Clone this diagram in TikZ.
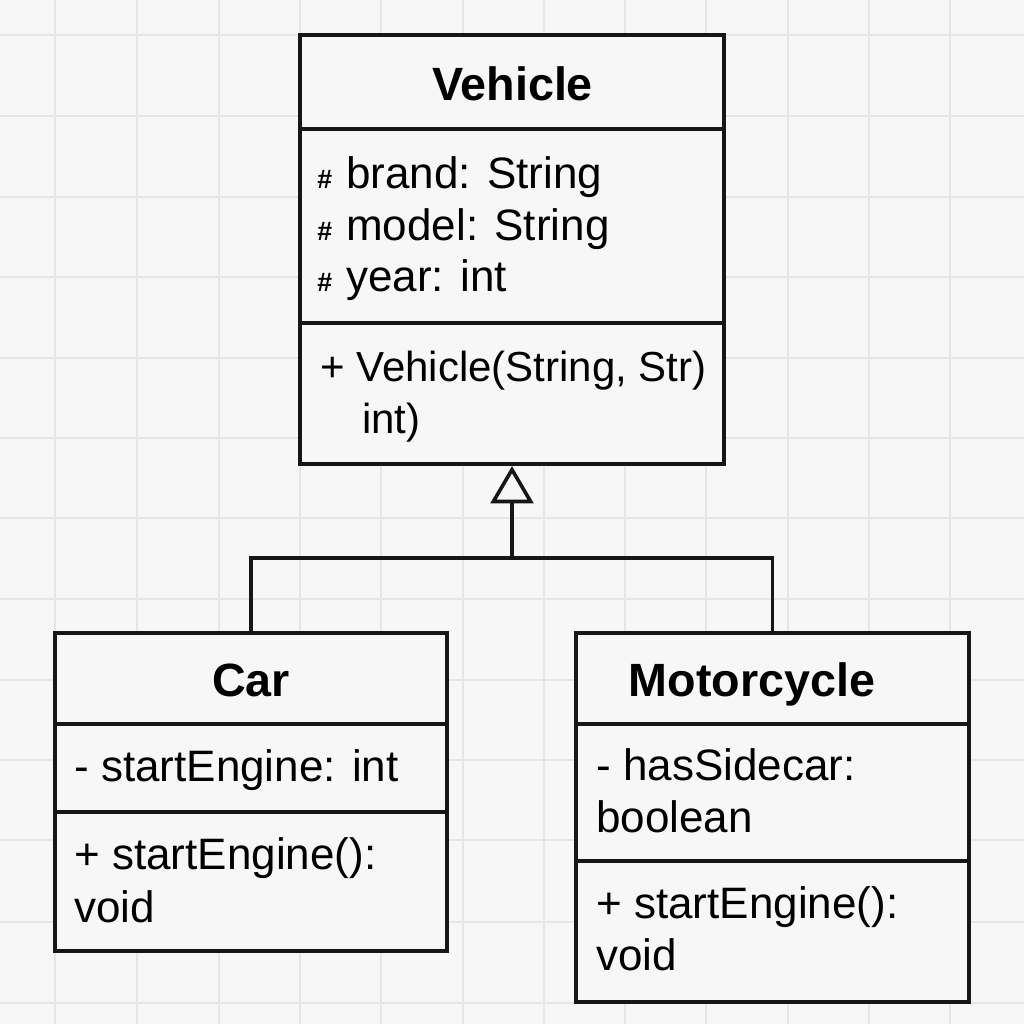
\documentclass[tikz,border=0pt]{standalone}
\usepackage{fontspec}
\setmainfont{Liberation Sans}
\usetikzlibrary{arrows.meta,fit}
\definecolor{bgc}{RGB}{247,247,247}
\definecolor{gridc}{RGB}{230,230,230}
\definecolor{ink}{RGB}{22,22,22}
\begin{document}
\begin{tikzpicture}[x=0.75pt,y=-0.75pt,
 umlbox/.style={draw=ink, line width=3pt, inner sep=0pt, fill=bgc},
 sepline/.style={draw=ink, line width=2.7pt},
 link/.style={draw=ink, line width=2.7pt},
 txt/.style={inner sep=0pt, anchor=base west, text=black, font=\fontsize{33}{40}\selectfont},
 txtm/.style={inner sep=0pt, anchor=base west, text=black, font=\fontsize{31.5}{38}\selectfont},
 ttl/.style={inner sep=0pt, anchor=base, text=black, font=\bfseries\fontsize{35}{42}\selectfont},
 hash/.style={inner sep=0pt, anchor=base west, text=black, font=\bfseries\fontsize{20}{24}\selectfont},
 gridline/.style={draw=gridc, line width=1pt}
]
\useasboundingbox (0,0) rectangle (1024,1024);
\fill[bgc] (0,0) rectangle (1024,1024);
% grid
\foreach \gx in {55,137,219,300,381,463,544,625,706,788,869,950}
  \draw[gridline] (\gx,0) -- (\gx,1024);
\foreach \gy in {35,116,197,277,358,438,518,599,680,760,840,922,1003}
  \draw[gridline] (0,\gy) -- (1024,\gy);

% ---- Vehicle ----
\node[umlbox, fit={(300,35) (724,464)}] (veh) {};
\draw[sepline] (veh.west |- 0,129) -- (veh.east |- 0,129);
\draw[sepline] (veh.west |- 0,323) -- (veh.east |- 0,323);
\node[ttl] (vehT) at (512.5,100) {Vehicle};
\node[hash] (h1) at (317,188) {\#};
\node[txt] (va1) at (346,188) {brand: String};
\node[hash] (h2) at (317,240) {\#};
\node[txt] (va2) at (346,240) {model: String};
\node[hash] (h3) at (317,291) {\#};
\node[txt] (va3) at (346,291) {year: int};
\node[txtm] (vm1) at (320,381) {+ Vehicle(String, Str)};
\node[txtm] (vm2) at (362,433) {int)};

% ---- Car ----
\node[umlbox, fit={(55,633) (447,951)}] (car) {};
\draw[sepline] (car.west |- 0,724) -- (car.east |- 0,724);
\draw[sepline] (car.west |- 0,812) -- (car.east |- 0,812);
\node[ttl] (carT) at (251,696) {Car};
\node[txt] (ca1) at (74,781) {- startEngine: int};
\node[txt] (cm1) at (74,869) {+ startEngine():};
\node[txt] (cm2) at (74,922) {void};

% ---- Motorcycle ----
\node[umlbox, fit={(576,633) (969,1002)}] (moto) {};
\draw[sepline] (moto.west |- 0,724) -- (moto.east |- 0,724);
\draw[sepline] (moto.west |- 0,861) -- (moto.east |- 0,861);
\node[ttl] (motoT) at (752,696) {Motorcycle};
\node[txt] (ma1) at (596,780) {- hasSidecar:};
\node[txt] (ma2) at (596,832) {boolean};
\node[txt] (mm1) at (596,918) {+ startEngine():};
\node[txt] (mm2) at (596,970) {void};

% ---- generalization ----
\coordinate (junc) at (veh.south |- 0,558);
\draw[link] (car.north) |- (junc) -| (moto.north);
\draw[link, -{Triangle[open, width=32pt, length=28pt, line width=2.7pt]}] (junc) -- (veh.south);
\end{tikzpicture}
\end{document}
